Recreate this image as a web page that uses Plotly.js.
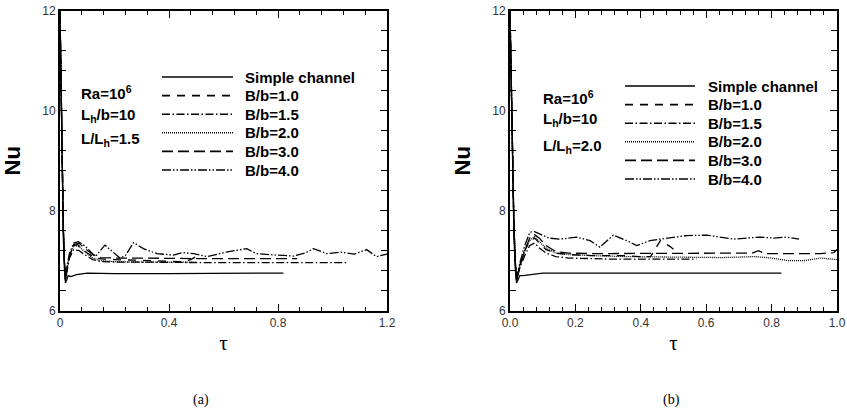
<!DOCTYPE html>
<html><head><meta charset="utf-8">
<script src="https://cdn.plot.ly/plotly-3.0.1.min.js"></script>
<style>html,body{margin:0;padding:0;background:#fff}#chart{width:847px;height:419px}</style>
</head><body><div id="chart"></div>
<script>
// ---------- data ----------
const seriesNames = ['Simple channel', 'B/b=1.0', 'B/b=1.5', 'B/b=2.0', 'B/b=3.0', 'B/b=4.0'];
const paramsA = ['Ra=10<sup>6</sup>', 'L<sub>h</sub>/b=10', 'L/L<sub>h</sub>=1.5'];
const paramsB = ['Ra=10<sup>6</sup>', 'L<sub>h</sub>/b=10', 'L/L<sub>h</sub>=2.0'];
const panelLabels = ['(a)', '(b)'];
const xTitle = 'τ';
const yTitle = 'Nu';

// panel (a): L/Lh = 1.5
const tauA_simple = [0, 0.004, 0.008, 0.012, 0.016, 0.02, 0.025, 0.03, 0.04, 0.06, 0.1, 0.2, 0.4, 0.6, 0.82];
const nuA_simple  = [12, 10.4, 8.7, 7.5, 6.85, 6.55, 6.62, 6.7, 6.68, 6.72, 6.75, 6.74, 6.74, 6.75, 6.75];
const tauA_b10 = [0, 0.004, 0.008, 0.012, 0.016, 0.02, 0.026, 0.035, 0.05, 0.065, 0.08, 0.1, 0.13, 0.16, 0.2, 0.25, 0.3, 0.35, 0.4, 0.45, 0.48, 0.5];
const nuA_b10  = [12, 10.5, 8.9, 7.7, 7.0, 6.65, 6.85, 7.1, 7.3, 7.32, 7.25, 7.15, 7.05, 7.03, 7.02, 7.01, 7.0, 6.99, 6.98, 6.98, 7.02, 7.08];
const tauA_b15 = [0, 0.004, 0.008, 0.012, 0.016, 0.02, 0.026, 0.035, 0.05, 0.07, 0.09, 0.12, 0.15, 0.2, 0.3, 0.4, 0.5, 0.6, 0.7, 0.8, 0.9, 1.0, 1.05];
const nuA_b15  = [12, 10.5, 8.9, 7.7, 7.0, 6.6, 6.8, 7.05, 7.22, 7.2, 7.12, 7.02, 6.98, 6.97, 6.97, 6.96, 6.96, 6.96, 6.96, 6.96, 6.96, 6.96, 6.96];
const tauA_b20 = [0, 0.004, 0.008, 0.012, 0.016, 0.02, 0.026, 0.035, 0.05, 0.07, 0.09, 0.12, 0.15, 0.2, 0.3, 0.4, 0.5];
const nuA_b20  = [12, 10.5, 8.9, 7.7, 7.0, 6.62, 6.85, 7.1, 7.3, 7.28, 7.18, 7.05, 7.0, 6.98, 6.97, 6.97, 6.97];
const tauA_b30 = [0, 0.004, 0.008, 0.012, 0.016, 0.02, 0.026, 0.035, 0.05, 0.07, 0.09, 0.12, 0.15, 0.2, 0.3, 0.4, 0.5, 0.6, 0.7, 0.8, 0.87];
const nuA_b30  = [12, 10.5, 8.9, 7.7, 7.0, 6.62, 6.85, 7.1, 7.32, 7.35, 7.25, 7.12, 7.06, 7.05, 7.05, 7.04, 7.04, 7.04, 7.04, 7.04, 7.04];
const tauA_b40 = [0, 0.004, 0.008, 0.012, 0.016, 0.02, 0.026, 0.035, 0.05, 0.067, 0.09, 0.11, 0.13, 0.165, 0.2, 0.22, 0.24, 0.27, 0.306, 0.355, 0.416, 0.45, 0.49, 0.54, 0.61, 0.685, 0.72, 0.76, 0.795, 0.856, 0.9, 0.93, 0.98, 1.03, 1.08, 1.125, 1.162, 1.2];
const nuA_b40  = [12, 10.5, 8.9, 7.7, 7.0, 6.62, 6.9, 7.15, 7.35, 7.38, 7.3, 7.18, 7.08, 7.31, 7.14, 7.05, 7.1, 7.36, 7.24, 7.14, 7.11, 7.16, 7.14, 7.08, 7.17, 7.24, 7.14, 7.13, 7.11, 7.09, 7.15, 7.24, 7.14, 7.17, 7.13, 7.22, 7.08, 7.13];

// panel (b): L/Lh = 2.0
const tauB_simple = [0, 0.004, 0.008, 0.012, 0.016, 0.02, 0.025, 0.03, 0.04, 0.06, 0.1, 0.2, 0.4, 0.6, 0.83];
const nuB_simple  = [12, 10.4, 8.7, 7.5, 6.85, 6.55, 6.62, 6.7, 6.7, 6.72, 6.75, 6.75, 6.75, 6.75, 6.75];
const tauB_b10 = [0, 0.004, 0.008, 0.012, 0.016, 0.02, 0.03, 0.045, 0.06, 0.075, 0.09, 0.11, 0.14, 0.18, 0.25, 0.3, 0.35, 0.4, 0.43, 0.46, 0.49, 0.51];
const nuB_b10  = [12, 10.5, 8.9, 7.7, 7.0, 6.6, 6.9, 7.2, 7.38, 7.45, 7.35, 7.22, 7.15, 7.12, 7.1, 7.1, 7.1, 7.08, 7.08, 7.4, 7.28, 7.17];
const tauB_b15 = [0, 0.004, 0.008, 0.012, 0.016, 0.02, 0.03, 0.045, 0.06, 0.075, 0.09, 0.11, 0.14, 0.18, 0.25, 0.3, 0.4, 0.5, 0.57];
const nuB_b15  = [12, 10.5, 8.9, 7.7, 7.0, 6.6, 6.85, 7.1, 7.3, 7.35, 7.25, 7.15, 7.08, 7.05, 7.04, 7.03, 7.03, 7.03, 7.03];
const tauB_b20 = [0, 0.004, 0.008, 0.012, 0.016, 0.02, 0.03, 0.045, 0.06, 0.075, 0.09, 0.11, 0.14, 0.18, 0.25, 0.35, 0.5, 0.65, 0.75, 0.8, 0.85, 0.9, 0.95, 1.0];
const nuB_b20  = [12, 10.5, 8.9, 7.7, 7.0, 6.6, 6.9, 7.2, 7.4, 7.48, 7.38, 7.25, 7.15, 7.12, 7.1, 7.08, 7.07, 7.06, 7.08, 7.05, 7.0, 7.0, 7.05, 7.02];
const tauB_b30 = [0, 0.004, 0.008, 0.012, 0.016, 0.02, 0.03, 0.045, 0.06, 0.075, 0.09, 0.11, 0.14, 0.18, 0.25, 0.35, 0.5, 0.65, 0.74, 0.76, 0.78, 0.85, 0.95, 0.99, 1.0];
const nuB_b30  = [12, 10.5, 8.9, 7.7, 7.0, 6.6, 6.9, 7.2, 7.45, 7.52, 7.45, 7.3, 7.18, 7.15, 7.14, 7.14, 7.14, 7.14, 7.15, 7.2, 7.14, 7.14, 7.14, 7.16, 7.22];
const tauB_b40 = [0, 0.004, 0.008, 0.012, 0.016, 0.02, 0.03, 0.045, 0.061, 0.075, 0.092, 0.12, 0.153, 0.204, 0.245, 0.275, 0.316, 0.357, 0.388, 0.428, 0.459, 0.5, 0.54, 0.602, 0.642, 0.683, 0.724, 0.765, 0.806, 0.846, 0.884];
const nuB_b40  = [12, 10.5, 8.9, 7.7, 7.0, 6.6, 6.95, 7.3, 7.57, 7.58, 7.53, 7.45, 7.43, 7.47, 7.4, 7.27, 7.51, 7.4, 7.3, 7.4, 7.43, 7.47, 7.5, 7.51, 7.47, 7.43, 7.45, 7.47, 7.45, 7.47, 7.43];

const xTicksA = [0, 0.4, 0.8, 1.2];
const xTicksB = [0, 0.2, 0.4, 0.6, 0.8, 1.0];
const yTicks = [6, 8, 10, 12];

// ---------- styles ----------
const dashes = ['solid', '8px,7px', '8px,2.5px,1.5px,2.5px', '1px,1px', '11px,5px', '9px,2px,1.5px,2px,1.5px,2px'];
const W = 847, H = 419;
const px = v => v / W, py = v => 1 - v / H;

const seriesA = [[tauA_simple, nuA_simple], [tauA_b10, nuA_b10], [tauA_b15, nuA_b15], [tauA_b20, nuA_b20], [tauA_b30, nuA_b30], [tauA_b40, nuA_b40]];
const seriesB = [[tauB_simple, nuB_simple], [tauB_b10, nuB_b10], [tauB_b15, nuB_b15], [tauB_b20, nuB_b20], [tauB_b30, nuB_b30], [tauB_b40, nuB_b40]];

const traces = [];
seriesA.forEach((s, i) => traces.push({x: s[0], y: s[1], xaxis: 'x', yaxis: 'y', name: seriesNames[i], type: 'scatter', mode: 'lines',
  line: {color: '#000', width: 1.3, dash: dashes[i]}, showlegend: false}));
seriesB.forEach((s, i) => traces.push({x: s[0], y: s[1], xaxis: 'x2', yaxis: 'y2', name: seriesNames[i], type: 'scatter', mode: 'lines',
  line: {color: '#000', width: 1.3, dash: dashes[i]}, showlegend: false}));

const tickFont = {family: 'Liberation Sans, Arial, sans-serif', size: 12, color: '#333'};
function xAx(domain, range, ticks, minorStep, fmt) {
  return {domain: domain, range: range, tickvals: ticks, ticktext: ticks.map(fmt), ticks: 'inside', ticklen: 7, tickwidth: 1, tickcolor: '#000',
    minor: {dtick: minorStep, tick0: 0, ticks: 'inside', ticklen: 4, tickcolor: '#000', tickwidth: 1},
    showline: true, linecolor: '#000', linewidth: 2, mirror: 'ticks', showgrid: false, zeroline: false, tickfont: tickFont,
    title: {text: xTitle, font: {family: 'Liberation Serif, Times New Roman, serif', size: 21, color: '#000'}, standoff: 6}, fixedrange: true};
}
function yAx(domain, anchor) {
  return {domain: domain, range: [6, 12], tickvals: yTicks, ticktext: yTicks.map(String), ticks: 'inside', ticklen: 7, tickwidth: 1, tickcolor: '#000',
    minor: {dtick: 0.4, tick0: 6, ticks: 'inside', ticklen: 6, tickcolor: '#000', tickwidth: 1},
    showline: true, linecolor: '#000', linewidth: 2, mirror: 'ticks', showgrid: false, zeroline: false, tickfont: tickFont, anchor: anchor,
    title: {text: yTitle, font: {family: 'Liberation Sans, Arial, sans-serif', size: 22, color: '#000', weight: 'bold'}, standoff: 16}, fixedrange: true};
}

const yDom = [(H - 310.5) / H, (H - 11) / H];
const layout = {
  width: W, height: H, margin: {l: 0, r: 0, t: 0, b: 0}, paper_bgcolor: '#fff', plot_bgcolor: '#fff', showlegend: false,
  xaxis: Object.assign(xAx([px(60), px(387)], [0, 1.2], xTicksA, 0.08, v => String(v)), {anchor: 'y'}),
  yaxis: yAx(yDom, 'x'),
  xaxis2: Object.assign(xAx([px(510), px(837)], [0, 1.0], xTicksB, 0.04, v => v.toFixed(1)), {anchor: 'y2'}),
  yaxis2: yAx(yDom, 'x2'),
  annotations: [], shapes: []
};

const boldFont = {family: 'Liberation Sans, Arial, sans-serif', size: 15, color: '#000', weight: 'bold'};
// parameter text blocks
const paramPos = [{x: 79, ys: [92, 115, 139]}, {x: 541, ys: [97, 120, 146]}];
[paramsA, paramsB].forEach((arr, p) => arr.forEach((t, i) => layout.annotations.push({
  text: t, xref: 'paper', yref: 'paper', x: px(paramPos[p].x), y: py(paramPos[p].ys[i]), xanchor: 'left', yanchor: 'middle',
  showarrow: false, font: boldFont})));

// legend keys
const legPos = [{x0: 162, x1: 233, tx: 243, y0: 77, step: 18.6}, {x0: 625, x1: 695, tx: 706, y0: 86, step: 18.6}];
legPos.forEach(lp => seriesNames.forEach((n, i) => {
  const yy = py(lp.y0 + i * lp.step);
  layout.shapes.push({type: 'line', xref: 'paper', yref: 'paper', x0: px(lp.x0), x1: px(lp.x1), y0: yy, y1: yy,
    line: {color: '#000', width: 1.6, dash: dashes[i]}});
  layout.annotations.push({text: n, xref: 'paper', yref: 'paper', x: px(lp.tx), y: yy, xanchor: 'left', yanchor: 'middle',
    showarrow: false, font: boldFont});
}));

// panel labels
[[201, 400], [671, 400]].forEach((p, i) => layout.annotations.push({text: panelLabels[i], xref: 'paper', yref: 'paper',
  x: px(p[0]), y: py(p[1]), xanchor: 'center', yanchor: 'middle', showarrow: false,
  font: {family: 'Liberation Serif, Times New Roman, serif', size: 14, color: '#000'}}));

Plotly.newPlot('chart', traces, layout, {displayModeBar: false, staticPlot: true});
</script></body></html>
